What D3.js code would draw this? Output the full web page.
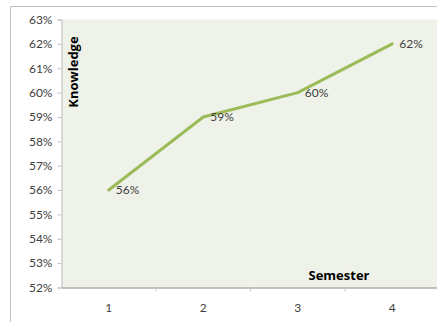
<!DOCTYPE html>
<html><head><meta charset="utf-8">
<script src="https://cdn.jsdelivr.net/npm/d3@7"></script>
<style>body{margin:0;background:#fff;}svg{display:block;font-family:Lato,"Open Sans",sans-serif;}</style>
</head><body>
<svg id="c" width="437" height="322"></svg>
<script>
const categories = ["1","2","3","4"];
const values = [56, 59, 60, 62];
const labels = ["56%","59%","60%","62%"];
const yTicks = [52,53,54,55,56,57,58,59,60,61,62,63];

const svg = d3.select("#c");
const L = 61.5, R = 439.5, T = 19.5, B = 287.5;

svg.append("path").attr("d","M10.5,322 V6.5 H437").attr("fill","none").attr("stroke","#c0c0c0").attr("stroke-width",1);

const x = d3.scaleBand().domain(categories).range([L,R]).padding(0);
const y = d3.scaleLinear().domain([52,63]).range([B,T]);

svg.append("rect").attr("x",L).attr("y",T).attr("width",R-L).attr("height",B-T).attr("fill","#eff2e9");

const ya = svg.append("g").attr("transform",`translate(${L},0)`)
  .call(d3.axisLeft(y).tickValues(yTicks).tickSize(4).tickPadding(5).tickFormat(d=>d+"%"));
ya.select(".domain").attr("stroke","#bfbfbf");
ya.selectAll(".tick line").attr("stroke","#bfbfbf");
ya.selectAll("text").attr("fill","#404040").style("font-size","12px").style("font-family","Lato");

const xa = svg.append("g").attr("transform",`translate(0,${B})`)
  .call(d3.axisBottom(x).tickSize(0).tickPadding(16));
xa.select(".domain").attr("stroke","#868686");
xa.selectAll("text").attr("fill","#404040").style("font-size","12px").style("font-family","Lato");
xa.selectAll(".bt").data(categories.slice(1)).enter().append("line")
  .attr("x1",d=>x(d)).attr("x2",d=>x(d)).attr("y1",0).attr("y2",4).attr("stroke","#c8c8c8");

const line = d3.line().x((d,i)=>x(categories[i])+x.bandwidth()/2).y(d=>y(d));
svg.append("path").datum(values).attr("d",line).attr("fill","none")
  .attr("stroke","#9bbb59").attr("stroke-width",3).attr("stroke-linecap","round").attr("stroke-linejoin","round");

svg.selectAll(".dl").data(values).enter().append("text")
  .attr("x",(d,i)=>x(categories[i])+x.bandwidth()/2+7)
  .attr("y",d=>y(d)).attr("dy","0.35em")
  .attr("fill","#404040").style("font-size","12px").style("font-family","Lato")
  .text((d,i)=>labels[i]);

svg.append("text").attr("transform","translate(78,72) rotate(-90)").attr("text-anchor","middle")
  .style("font-size","13px").style("font-weight","bold").style("font-family","'Open Sans'").attr("fill","#000")
  .text("Knowledge");
svg.append("text").attr("x",339).attr("y",280).attr("text-anchor","middle")
  .style("font-size","13px").style("font-weight","bold").style("font-family","'Open Sans'").attr("fill","#000")
  .text("Semester");
</script>
</body></html>
